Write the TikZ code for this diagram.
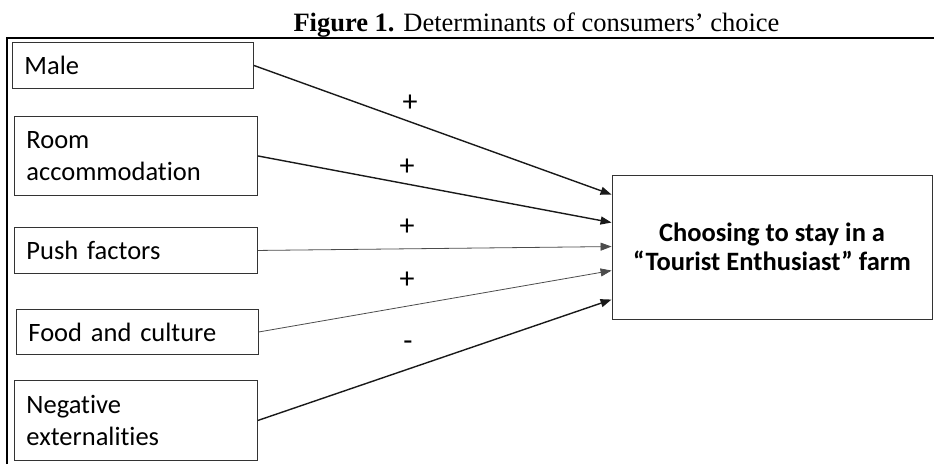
\documentclass[tikz,border=0pt]{standalone}
\usepackage{fontspec}
\setmainfont{Liberation Serif}
\newfontfamily\calfont[Ligatures=NoCommon]{Carlito}
\usetikzlibrary{arrows.meta,calc}
\begin{document}
\begin{tikzpicture}[x=1pt,y=-1pt,
  inbox/.style={draw=black!80,line width=0.9pt,rectangle,anchor=north west,
    inner xsep=12pt,inner ysep=0pt,align=left,
    font=\calfont\fontsize{26.5}{32}\selectfont},
  sign/.style={font=\calfont\fontsize{30}{32}\selectfont,inner sep=0pt},
  conn/.style={-{Triangle[length=11pt,width=8pt]},line width=1.4pt,black!90},
  thinconn/.style={-{Triangle[length=11pt,width=8pt]},line width=0.8pt,black!70}]
\useasboundingbox (0,0) rectangle (934,464);
\node[font=\fontsize{26.5}{28}\selectfont,inner sep=0pt,anchor=base] (title) at (536.5,31)
  {\textbf{Figure 1.} Determinants of consumers’ choice};
\draw[line width=2pt] (7,464) -- (7,38) -- (934,38);
\node[inbox,minimum width=241pt,minimum height=46pt,text width=217pt] (male) at (12,42) {Male};
\node[inbox,minimum width=243pt,minimum height=79pt,text width=219pt] (room) at (14,116) {Room\\accommodation};
\node[inbox,minimum width=243pt,minimum height=46pt,text width=219pt] (push) at (14,227) {Push factors};
\node[inbox,minimum width=242pt,minimum height=45pt,text width=218pt] (food) at (16,309) {Food and culture};
\node[inbox,minimum width=243pt,minimum height=80pt,text width=219pt] (neg) at (14,380) {Negative\\externalities};
\node[draw=black!80,line width=0.9pt,rectangle,minimum width=320pt,minimum height=144pt,
  align=center,inner sep=0pt,font=\calfont\bfseries\fontsize{26.5}{29}\selectfont]
  (out) at (772,247) {Choosing to stay in a\\“Tourist Enthusiast” farm};
\draw[conn] (male.east) -- ($(out.north west)+(0,20)$);
\draw[conn] (room.east) -- ($(out.north west)+(0,48)$);
\draw[thinconn] (push.east) -- ($(out.north west)+(0,72)$);
\draw[thinconn] (food.east) -- ($(out.north west)+(0,96)$);
\draw[conn] (neg.east) -- ($(out.north west)+(0,125)$);
\node[sign] (s1) at (410,103) {+};
\node[sign] (s2) at (407,167) {+};
\node[sign] (s3) at (407,227) {+};
\node[sign] (s4) at (407,280) {+};
\node[sign] (s5) at (408,346) {-};
\end{tikzpicture}
\end{document}
